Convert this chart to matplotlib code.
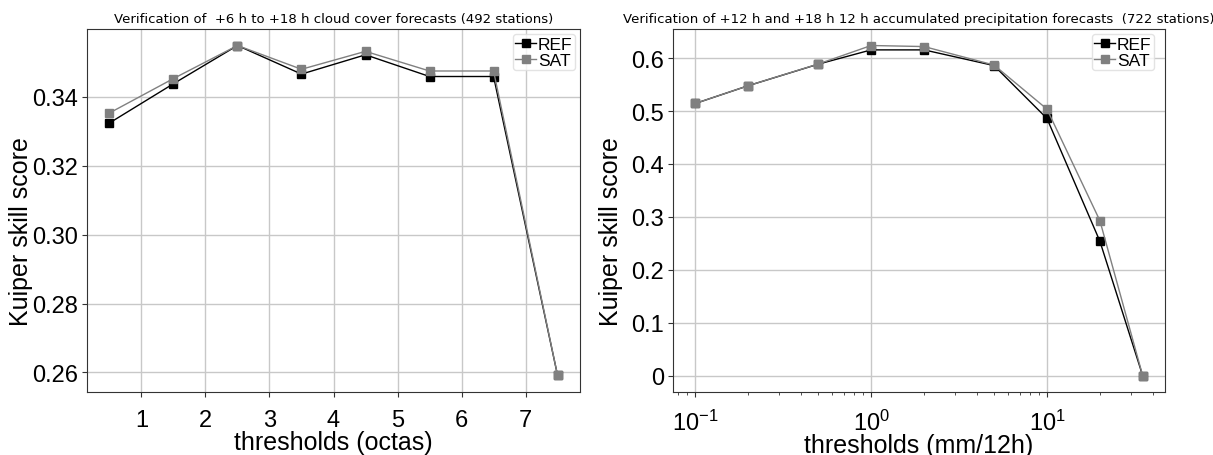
import numpy as np
import matplotlib
matplotlib.use("Agg")
import matplotlib.pyplot as plt

# cloud cover thresholds (octas)
octas = [0.5, 1.5, 2.5, 3.5, 4.5, 5.5, 6.5, 7.5]
cloud_ref = [0.3324, 0.3438, 0.3549, 0.3466, 0.3522, 0.3459, 0.3459, 0.2591]
cloud_sat = [0.3353, 0.3453, 0.3549, 0.3480, 0.3532, 0.3475, 0.3475, 0.2591]

# precipitation thresholds (mm/12h)
precip = [0.1, 0.2, 0.5, 1, 2, 5, 10, 20, 35]
precip_ref = [0.5144, 0.548, 0.5887, 0.6157, 0.6157, 0.586, 0.486, 0.2538, 0.0]
precip_sat = [0.5144, 0.548, 0.5890, 0.6240, 0.6220, 0.587, 0.5037, 0.2927, 0.0]

plt.rcParams['font.family'] = ['Liberation Sans', 'DejaVu Sans']
plt.rcParams['mathtext.fontset'] = 'custom'
plt.rcParams['mathtext.rm'] = 'Liberation Sans'
plt.rcParams['mathtext.it'] = 'Liberation Sans'
plt.rcParams['axes.unicode_minus'] = False

W, H = 1213, 456
fig = plt.figure(figsize=(W / 100, H / 100), dpi=100)
ax1 = fig.add_axes([87 / W, 1 - 393 / H, 493 / W, 363 / H])
ax2 = fig.add_axes([673 / W, 1 - 393 / H, 492 / W, 363 / H])


def style(ax, title, xlabel, leg_anchor, ylab_x):
    ax.set_title(title, fontsize=9.5, family='DejaVu Sans', pad=5)
    ax.set_xlabel(xlabel, fontsize=18, labelpad=-1)
    ax.set_ylabel("Kuiper skill score", fontsize=18)
    ax.yaxis.set_label_coords(ylab_x, 0.446)
    ax.tick_params(axis='both', which='major', labelsize=17, length=3.5,
                   color='#333333', pad=3)
    ax.tick_params(axis='x', which='major', pad=9)
    ax.tick_params(axis='both', which='minor', length=2, color='#333333')
    ax.grid(True, which='major', color='#c8c8c8', linewidth=1)
    ax.set_axisbelow(True)
    for s in ax.spines.values():
        s.set_color('#333333')
    leg = ax.legend(loc='upper right', bbox_to_anchor=leg_anchor, fontsize=12.5,
                    handlelength=1.2, handletextpad=0.1, borderpad=0.15,
                    labelspacing=0.05, borderaxespad=0, markerscale=0.85)
    leg.get_frame().set_edgecolor('#dddddd')


ax1.plot(octas, cloud_ref, '-s', color='black', lw=1, ms=6, label='REF')
ax1.plot(octas, cloud_sat, '-s', color='#808080', lw=1, ms=6, label='SAT')
ax1.set_xticks([1, 2, 3, 4, 5, 6, 7])
ax1.set_yticks([0.26, 0.28, 0.30, 0.32, 0.34])
ax1.set_yticklabels(["0.26", "0.28", "0.30", "0.32", "0.34"])
style(ax1, "Verification of  +6 h to +18 h cloud cover forecasts (492 stations)",
      "thresholds (octas)", (1 - 5 / 493, 1 - 5 / 363), -0.1095)

ax2.plot(precip, precip_ref, '-s', color='black', lw=1, ms=6, label='REF')
ax2.plot(precip, precip_sat, '-s', color='#808080', lw=1, ms=6, label='SAT')
ax2.set_xscale('log')
ax2.set_yticks([0, 0.1, 0.2, 0.3, 0.4, 0.5, 0.6])
ax2.set_yticklabels(["0", "0.1", "0.2", "0.3", "0.4", "0.5", "0.6"])
style(ax2, "Verification of +12 h and +18 h 12 h accumulated precipitation forecasts  (722 stations)",
      "thresholds (mm/12h)", (1 - 11 / 492, 1 - 5 / 363), -0.1016)

fig.savefig("out.png", dpi=100)
